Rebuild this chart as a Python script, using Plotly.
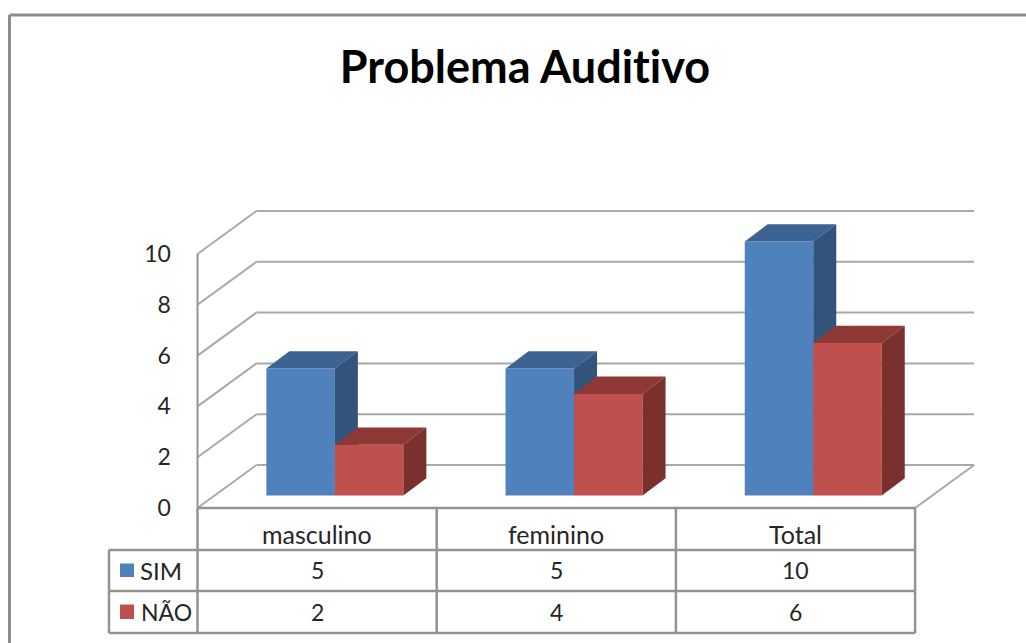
"""
Problema Auditivo - 3D style column chart with a data table
"""

import plotly.graph_objects as go

categories = ["masculino", "feminino", "Total"]
sim_values = [5, 5, 10]
nao_values = [2, 4, 6]
series_names = ["SIM", "NÃO"]
y_ticks = [0, 2, 4, 6, 8, 10]

W, H = 1026, 643

# pixel geometry of the front plane
X0 = 197.5        # left edge of first category
CAT_W = 239.2     # px per category
Y0 = 508          # value 0 on the front plane
UNIT = 25.4       # px per value unit

BAR_W = 68.5 / CAT_W
SIM_SHIFT = -0.069 - BAR_W / 2
FLOOR = 12.5 / UNIT                  # bars stand behind the front edge
DX, DY = 23 / CAT_W, 17.3 / UNIT     # bar depth
BACK_DX, BACK_DY = 59 / CAT_W, 43 / UNIT  # wall depth

GRID = "#a9a9a9"
EDGE = "#939393"
TEXT = "#262626"
FONT = "Lato"


def py(pixel):
    return (Y0 - pixel) / UNIT


def px(pixel):
    return (pixel - X0) / CAT_W


def faces(left, value):
    """top and side polygons of one column"""
    right = left + BAR_W
    top = FLOOR + value
    top_x = [left, right, right + DX, left + DX, left]
    top_y = [top, top, top + DY, top + DY, top]
    side_x = [right, right + DX, right + DX, right, right]
    side_y = [FLOOR, FLOOR + DY, top + DY, top, FLOOR]
    return top_x, top_y, side_x, side_y


def add_column_series(fig, name, values, shift, front, top_c, side_c, axes):
    xa, ya = axes
    lefts = [i + 0.5 + shift for i in range(len(values))]
    fig.add_trace(go.Bar(
        x=[l + BAR_W / 2 for l in lefts],
        y=values,
        base=FLOOR,
        width=BAR_W,
        name=name,
        marker=dict(color=front, line=dict(width=0)),
        xaxis=xa,
        yaxis=ya,
    ))
    for left, value in zip(lefts, values):
        top_x, top_y, side_x, side_y = faces(left, value)
        for xs, ys, color in ((top_x, top_y, top_c), (side_x, side_y, side_c)):
            fig.add_trace(go.Scatter(
                x=xs, y=ys,
                mode="lines",
                fill="toself",
                fillcolor=color,
                line=dict(width=0),
                hoverinfo="skip",
                xaxis=xa,
                yaxis=ya,
            ))


fig = go.Figure()

# SIM goes on the lower axes pair so the NÃO columns sit in front of it
add_column_series(fig, series_names[0], sim_values, SIM_SHIFT,
                  "#4F81BD", "#3D6392", "#32547C", ("x", "y"))
add_column_series(fig, series_names[1], nao_values, SIM_SHIFT + BAR_W,
                  "#C0504D", "#8F3936", "#7A302D", ("x2", "y2"))

# --------------------------------------------------
# Walls, floor and table lines
# --------------------------------------------------

shapes = []


def line(x0, y0, x1, y1, color=GRID, width=2):
    shapes.append(dict(
        type="line", x0=x0, y0=y0, x1=x1, y1=y1,
        xref="x", yref="y", layer="below",
        line=dict(color=color, width=width),
    ))


n = len(categories)
for tick in y_ticks:
    line(0, tick, BACK_DX, tick + BACK_DY)
    line(BACK_DX, tick + BACK_DY, n + BACK_DX, tick + BACK_DY)
line(0, 0, 0, y_ticks[-1], EDGE)
line(n, 0, n + BACK_DX, BACK_DY)

# table
rows = [py(550), py(591), py(633)]
line(0, 0, n, 0, EDGE, 2.5)
for r in rows:
    line(px(109), r, n, r, EDGE, 2.5)
for i in range(n + 1):
    line(i, 0, i, rows[-1], EDGE, 2.5)
line(px(109), rows[0], px(109), rows[-1], EDGE, 2.5)

# outer frame, only left and top edges are in the picture
line(px(9.5), py(15), px(9.5), py(643), "#8c8c8c", 3)
line(px(9.5), py(15), px(W), py(15), "#8c8c8c", 3)

# legend keys
for color, top, bottom in (("#4F81BD", 563.5, 577), ("#C0504D", 604.5, 619)):
    shapes.append(dict(
        type="rect", x0=px(120), x1=px(134), y0=py(bottom), y1=py(top),
        xref="x", yref="y", layer="below",
        fillcolor=color, line=dict(width=0),
    ))

# --------------------------------------------------
# Table text
# --------------------------------------------------

annotations = []


def label(x, y, text, anchor="center", size=23):
    annotations.append(dict(
        x=x, y=y, text=text, xref="x", yref="y",
        xanchor=anchor, yanchor="middle", showarrow=False,
        font=dict(family=FONT, size=size, color=TEXT),
    ))


for i, cat in enumerate(categories):
    label(i + 0.5, py(534), cat, size=25)
    label(i + 0.5, py(570), str(sim_values[i]))
    label(i + 0.5, py(612), str(nao_values[i]))
label(px(138), py(570), series_names[0], "left", 24)
label(px(139), py(612), series_names[1], "left")

axis_x = dict(
    range=[px(0), px(W)], visible=False, fixedrange=True,
)
axis_y = dict(
    range=[py(H), py(0)], fixedrange=True,
)

fig.update_layout(
    width=W,
    height=H,
    margin=dict(l=0, r=0, t=0, b=0),
    paper_bgcolor="white",
    plot_bgcolor="white",
    barmode="overlay",
    showlegend=False,
    title=dict(
        text="<b>Problema Auditivo</b>",
        x=525 / W, xanchor="center",
        y=1 - 67 / H, yanchor="middle",
        font=dict(family=FONT, size=45, color="#000000"),
    ),
    xaxis=dict(domain=[0, 1], **axis_x),
    yaxis=dict(
        domain=[0, 1],
        anchor="free",
        position=X0 / W,
        tickmode="array",
        tickvals=y_ticks,
        ticktext=[str(t) for t in y_ticks],
        ticks="outside",
        ticklen=22,
        tickcolor="rgba(0,0,0,0)",
        tickfont=dict(family=FONT, size=23, color=TEXT),
        showgrid=False,
        zeroline=False,
        showline=False,
        **axis_y,
    ),
    xaxis2=dict(overlaying="x", **axis_x),
    yaxis2=dict(overlaying="y", visible=False, **axis_y),
    shapes=shapes,
    annotations=annotations,
)

# page margin off so the figure fills the window, no "ti" ligature in the title
page_css = (
    "var s=document.createElement('style');"
    "s.textContent='body{margin:0} svg text{font-variant-ligatures:none !important}';"
    "document.head.appendChild(s);"
)

fig.write_html(
    "out.html",
    config={"displayModeBar": False},
    post_script=page_css,
)
